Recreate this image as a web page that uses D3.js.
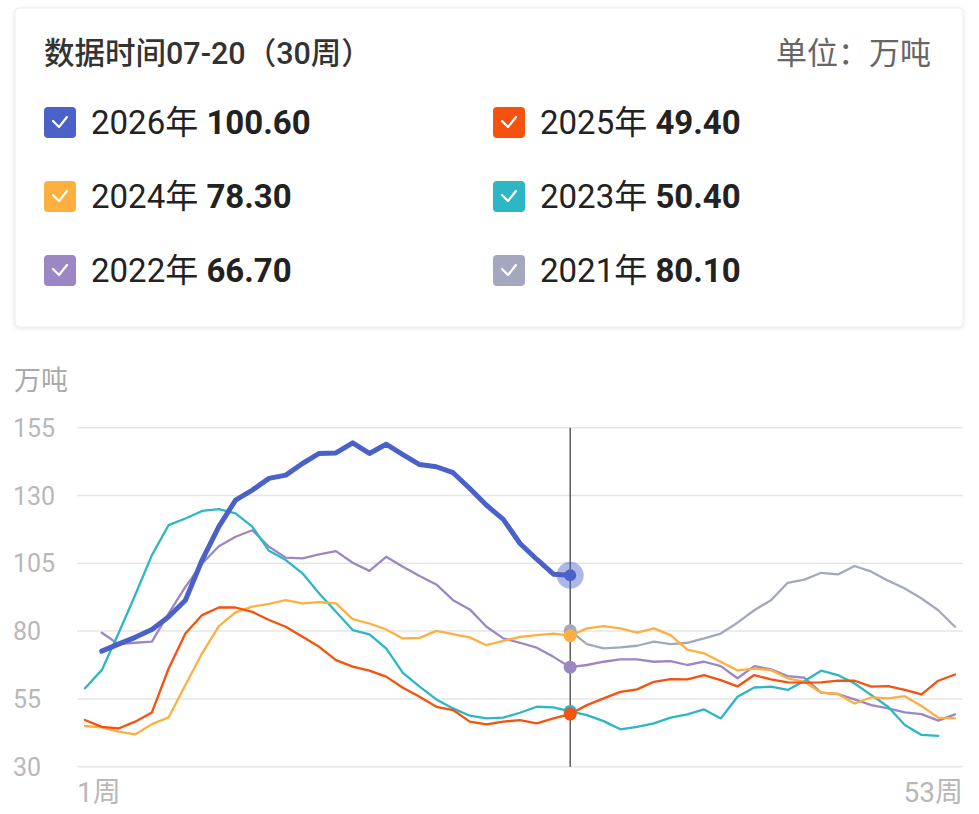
<!DOCTYPE html>
<html><head><meta charset="utf-8">
<script src="https://cdn.jsdelivr.net/npm/d3@7"></script>
<style>
html,body{margin:0;padding:0;background:#fff;}
svg{display:block;font-family:Roboto,"Noto Sans CJK SC","Noto Sans",sans-serif;}
</style></head>
<body><svg id="c" width="979" height="814"></svg>
<script>
const weeks = d3.range(1, 54);
const yTicks = [30, 55, 80, 105, 130, 155];
const xTickLabels = ["1周", "53周"];
const title = "数据时间07-20（30周）";
const unit = "单位：万吨";
const yAxisLabel = "万吨";
const currentWeek = 30;

const years = ["2026年", "2025年", "2024年", "2023年", "2022年", "2021年"];
const legendValues = ["100.60", "49.40", "78.30", "50.40", "66.70", "80.10"];
const colors = ["#4a62c8", "#f5520f", "#fdb03f", "#2db6c3", "#9b87c3", "#a3a8bf"];

const s2026 = [null,72.6,75.2,77.7,80.6,85.3,91.4,106.2,118.5,128.3,132.0,136.3,137.5,141.8,145.5,145.7,149.4,145.5,148.9,145.1,141.4,140.6,138.4,132.6,126.4,121.2,112.3,106.5,101.0,100.6,
  null,null,null,null,null,null,null,null,null,null,null,null,null,null,null,null,null,null,null,null,null,null,null];
const s2025 = [47.2,44.7,44.1,46.6,50.0,66.2,79.1,85.9,88.7,88.7,87.1,84.1,81.6,77.9,74.2,69.3,66.9,65.4,63.2,59.1,55.8,52.1,50.9,46.6,45.6,46.6,47.2,46.0,47.8,49.4,
  52.7,55.2,57.6,58.5,61.3,62.3,62.2,63.8,61.9,59.6,63.8,62.2,61.1,61.0,61.1,61.7,61.7,59.5,59.7,58.3,56.7,61.7,64.0];
const s2024 = [45.0,44.5,42.9,41.9,45.7,48.2,60.1,71.8,81.8,86.9,89.0,90.0,91.4,90.2,90.7,90.2,84.4,82.8,80.6,77.3,77.5,80.1,78.9,77.7,74.8,76.4,77.9,78.5,79.1,78.3,
  81.0,81.8,81.0,79.4,81.0,78.5,73.2,71.8,68.7,65.5,66.2,65.6,62.6,61.3,57.3,56.8,53.3,55.6,55.2,56.0,52.4,48.1,47.8];
const s2023 = [58.9,65.6,79.1,93.3,108.0,119.1,121.5,124.3,125.0,123.4,118.5,109.6,106.2,101.3,93.9,87.1,80.4,78.8,73.6,64.6,59.5,54.8,51.5,48.8,47.8,48.1,49.9,52.1,51.9,50.4,
  49.0,46.8,43.8,44.7,46.0,48.1,49.3,51.1,47.8,55.8,59.2,59.5,58.3,61.6,65.4,63.8,60.7,56.4,52.1,45.4,41.7,41.4,null];
const s2022 = [null,79.4,75.2,75.7,76.1,86.5,96.3,104.9,111.3,114.8,117.2,111.1,107.1,106.8,108.3,109.5,105.2,102.2,107.4,103.7,100.3,97.2,91.4,88.0,81.6,77.3,75.7,73.9,70.5,66.7,
  67.5,68.7,69.6,69.6,68.7,68.9,67.5,68.7,67.1,62.6,67.1,65.9,63.4,62.8,57.3,56.8,54.8,52.7,51.5,50.0,49.4,47.0,49.3];
const s2021 = [null,null,null,null,null,null,null,null,null,null,null,null,null,null,null,null,null,null,null,null,null,null,null,null,null,null,null,null,null,80.1,
  75.2,73.6,74.0,74.6,76.1,75.2,75.7,77.3,79.1,83.1,87.7,91.4,97.8,99.0,101.5,100.9,104.0,101.9,98.6,95.7,92.0,87.7,81.6];

const seriesData = [s2026, s2025, s2024, s2023, s2022, s2021];

const svg = d3.select("#c");

// ---- legend card ----
const defs = svg.append("defs");
const f = defs.append("filter").attr("id","sh").attr("x","-5%").attr("y","-5%").attr("width","110%").attr("height","115%");
f.append("feDropShadow").attr("dx",0).attr("dy",1).attr("stdDeviation",2).attr("flood-color","#000").attr("flood-opacity",0.10);
svg.append("rect").attr("x",15).attr("y",8).attr("width",948).attr("height",319).attr("rx",4)
  .attr("fill","#fff").attr("stroke","#ececec").attr("stroke-width",1).attr("filter","url(#sh)");

svg.append("text").attr("x",44).attr("y",64).attr("font-size",30.5).attr("fill","#333")
  .attr("font-weight",500).text(title);
svg.append("text").attr("x",931).attr("y",64).attr("font-size",31).attr("fill","#666")
  .attr("text-anchor","end").text(unit);

const legendOrder = [0,1,2,3,4,5];
legendOrder.forEach((i, k) => {
  const col = k % 2, row = Math.floor(k / 2);
  const x0 = col === 0 ? 44 : 493;
  const cy = 122 + row * 74;
  const g = svg.append("g").attr("transform", `translate(${x0},${cy})`);
  g.append("rect").attr("x",0).attr("y",-15).attr("width",32).attr("height",31).attr("rx",4).attr("fill",colors[i]);
  g.append("path").attr("d","M9,-1 L15,5 L23,-5").attr("fill","none").attr("stroke","#fff")
    .attr("stroke-width",2.2).attr("stroke-linecap","round").attr("stroke-linejoin","round");
  const t = g.append("text").attr("x",47).attr("y",12).attr("font-size",33).attr("fill","#222");
  t.append("tspan").text(years[i] + " ");
  t.append("tspan").attr("font-weight",700).text(legendValues[i]);
});

// ---- chart ----
const x = d3.scaleLinear().domain([1, 53]).range([85, 955]);
const y = d3.scaleLinear().domain([30, 155]).range([766.7, 427.7]);

svg.append("text").attr("x",14).attr("y",390).attr("font-size",27).attr("fill","#aaa").text(yAxisLabel);

const grid = svg.append("g");
yTicks.forEach(v => {
  grid.append("line").attr("x1",77).attr("x2",963).attr("y1",y(v)).attr("y2",y(v))
    .attr("stroke","#e6e6e6").attr("stroke-width",1.5);
  grid.append("text").attr("x",13).attr("y",y(v)).attr("dy","0.36em").attr("font-size",25)
    .attr("fill","#b8b8b8").text(v);
});
svg.append("text").attr("x",77).attr("y",802).attr("font-size",28).attr("fill","#b8b8b8").text(xTickLabels[0]);
svg.append("text").attr("x",963).attr("y",802).attr("font-size",28).attr("fill","#b8b8b8")
  .attr("text-anchor","end").text(xTickLabels[1]);

const line = d3.line().defined(d => d != null).x((d, i) => x(weeks[i])).y(d => y(d));

// draw 2021 first, 2026 last
const drawOrder = [5,4,3,2,1,0];
drawOrder.forEach(i => {
  svg.append("path").datum(seriesData[i]).attr("d", line).attr("fill","none")
    .attr("stroke", colors[i]).attr("stroke-width", i === 0 ? 5 : 2.3)
    .attr("stroke-linejoin","round").attr("stroke-linecap","round");
});

// crosshair
svg.append("line").attr("x1",x(currentWeek)).attr("x2",x(currentWeek)).attr("y1",y(155)).attr("y2",y(30))
  .attr("stroke","#444").attr("stroke-width",1.3);

// dots at current week
drawOrder.forEach(i => {
  const v = seriesData[i][currentWeek - 1];
  if (v == null) return;
  if (i === 0) {
    svg.append("circle").attr("cx",x(currentWeek)).attr("cy",y(v)).attr("r",13.5)
      .attr("fill",colors[i]).attr("fill-opacity",0.45);
    svg.append("circle").attr("cx",x(currentWeek)).attr("cy",y(v)).attr("r",6).attr("fill",colors[i]);
  } else {
    svg.append("circle").attr("cx",x(currentWeek)).attr("cy",y(v)).attr("r",6.5).attr("fill",colors[i]);
  }
});
</script></body></html>
